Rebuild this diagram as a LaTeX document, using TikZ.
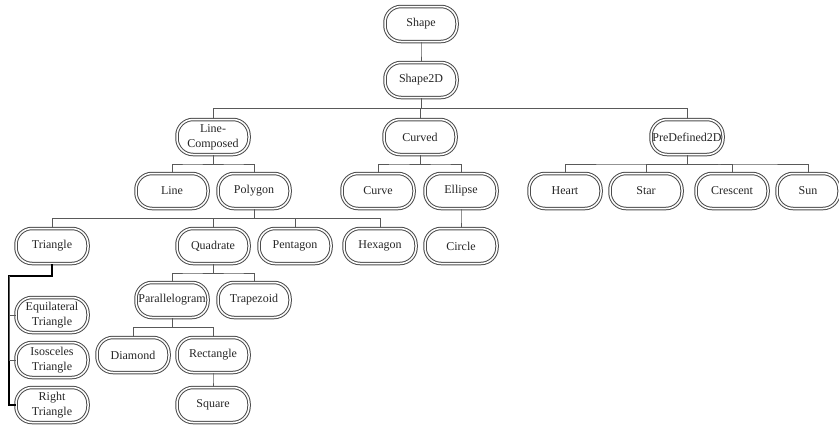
\documentclass[tikz,border=0pt]{standalone}
\usepackage{fontspec}
\setmainfont{Liberation Serif}
\usetikzlibrary{calc}

\tikzset{boite/.style = {draw = black!70, double = white, double distance = 1.5pt,
                         line width = 1pt, rounded corners = 16pt,
                         minimum width = 72pt, minimum height = 35pt, inner sep = 1pt,
                         align = center, text = black!85,
                         font = \fontsize{12}{15}\selectfont
                        },
         lien/.style = {draw = black!65, line width = 0.9pt},
         bus/.style = {to path = {(\tikztostart.south) |- ($(\tikztostart.south)!0.5!(\tikztotarget.north)$) -| (\tikztotarget.north)}}
        }

\begin{document}
\begin{tikzpicture}[x=1pt, y=-1pt]
\useasboundingbox (0,0) rectangle (839,424);
\node[boite] (shape)   at (421,24)  {Shape};
\node[boite] (s2d)     at (421,80)  {Shape2D};
\node[boite] (lc)      at (213,137) {Line-\\Composed};
\node[boite] (curved)  at (420,137) {Curved};
\node[boite] (predef)  at (687,137) {PreDefined2D};
\node[boite] (line)    at (172,191) {Line};
\node[boite] (poly)    at (254,191) {Polygon};
\node[boite] (curve)   at (378,191) {Curve};
\node[boite] (ellipse) at (461,191) {Ellipse};
\node[boite] (heart)   at (565,191) {Heart};
\node[boite] (star)    at (646,191) {Star};
\node[boite] (cresc)   at (732,191) {Crescent};
\node[boite, minimum width = 62pt] (sun) at (808,191) {Sun};
\node[boite] (tri)     at (52,246)  {Triangle};
\node[boite] (quad)    at (213,246) {Quadrate};
\node[boite] (penta)   at (295,246) {Pentagon};
\node[boite] (hexa)    at (380,246) {Hexagon};
\node[boite] (circ)    at (461,246) {Circle};
\node[boite] (para)    at (172,300) {Parallelogram};
\node[boite] (trap)    at (254,300) {Trapezoid};
\node[boite] (diam)    at (133,355) {Diamond};
\node[boite] (rect)    at (213,355) {Rectangle};
\node[boite] (square)  at (213,405) {Square};
\node[boite] (equi)    at (52,315)  {Equilateral\\Triangle};
\node[boite] (iso)     at (52,360)  {Isosceles\\Triangle};
\node[boite] (rtri)    at (52,405)  {Right\\Triangle};
\coordinate (tronc) at (9,276);

\draw[lien] (shape) edge[bus] (s2d);
\draw[lien] (s2d) edge[bus] (lc) edge[bus] (curved) edge[bus] (predef);
\draw[lien] (lc) edge[bus] (line) edge[bus] (poly);
\draw[lien] (curved) edge[bus] (curve) edge[bus] (ellipse);
\draw[lien] (predef) edge[bus] (heart) edge[bus] (star) edge[bus] (cresc) edge[bus] (sun);
\draw[lien] (poly) edge[bus] (tri) edge[bus] (quad) edge[bus] (penta) edge[bus] (hexa);
\draw[lien] (ellipse) edge[bus] (circ);
\draw[lien] (quad) edge[bus] (para) edge[bus] (trap);
\draw[lien] (para) edge[bus] (diam) edge[bus] (rect);
\draw[lien] (rect) edge[bus] (square);
\draw[lien, draw = black, line width = 1.2pt] (tri.south) |- (tronc) |- (rtri.west);
\draw[lien] (tronc) |- (equi.west);
\draw[lien] (tronc) |- (iso.west);
\end{tikzpicture}
\end{document}
